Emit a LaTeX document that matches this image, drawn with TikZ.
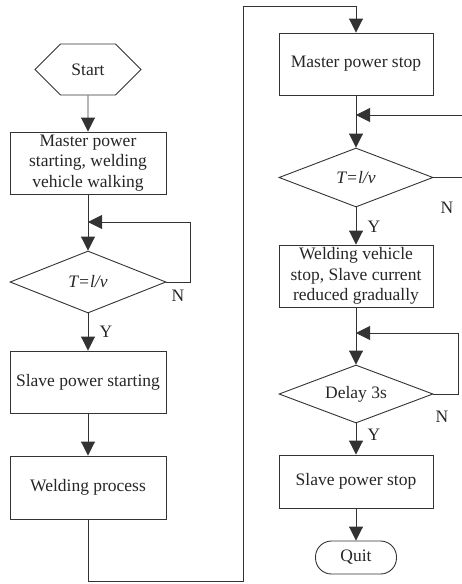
\documentclass[tikz,border=0pt]{standalone}
\usepackage{fontspec}
\setmainfont{Liberation Serif}
\usetikzlibrary{arrows.meta,shapes.geometric,shapes.symbols}
\begin{document}
\begin{tikzpicture}[x=1pt,y=-1pt,
  every node/.style={font=\fontsize{17.5}{20.5}\selectfont, text=black!85},
  line/.style={draw=black!80, line width=0.9pt},
  arr/.style={line, -{Triangle[length=14pt,width=14pt]}},
  procbox/.style={line, rectangle, align=center, inner sep=0pt, minimum width=156pt},
  decision/.style={line, diamond, aspect=2.5, inner sep=0pt, minimum width=156pt},
  terminal/.style={line, signal, signal to=west and east, signal pointer angle=90,
                   inner sep=0pt, minimum width=106pt, minimum height=51pt},
  quitbox/.style={line, rectangle, rounded corners=16pt, inner sep=0pt,
                  minimum width=81pt, minimum height=33pt},
  lbl/.style={inner sep=0pt}]
\useasboundingbox (0,0) rectangle (462,584);
\clip (0,0) rectangle (462,584);

% left column
\node[terminal] (start) at (88,69.5) {Start};
\node[procbox, minimum height=62pt] (mstart) at (88,163)
  {Master power\\starting, welding\\vehicle walking};
\node[decision, minimum height=62pt] (d1) at (88,282) {\textit{T=l/v}};
\node[procbox, minimum height=62pt] (sstart) at (88,382) {Slave power starting};
\node[procbox, minimum height=63pt] (weld) at (88,487.5) {Welding process};

% right column
\node[procbox, minimum width=154pt, minimum height=62pt] (mstop) at (356,64) {Master power stop};
\node[decision, minimum width=154pt, minimum height=59pt] (d2) at (356,177.5) {\textit{T=l/v}};
\node[procbox, minimum width=154pt, minimum height=62pt] (vstop) at (356,276)
  {Welding vehicle\\stop, Slave current\\reduced gradually};
\node[decision, minimum width=154pt, minimum height=58pt] (d3) at (356,394) {Delay 3s};
\node[procbox, minimum width=154pt, minimum height=53pt] (sstop) at (356,481.5) {Slave power stop};
\node[quitbox] (quit) at (356,557.5) {Quit};

% loop junction points
\coordinate (j1) at (88,222);
\coordinate (j2) at (356,115);
\coordinate (j3) at (356,333);

% main flow
\draw[arr] (start) -- (mstart);
\draw[arr] (mstart) -- (d1);
\draw[arr] (d1) -- (sstart);
\draw[arr] (sstart) -- (weld);
\draw[arr] (weld.south) -- (88,581) -- (243,581) -- (243,6) -- (356,6) -- (mstop.north);
\draw[arr] (mstop) -- (d2);
\draw[arr] (d2) -- (vstop);
\draw[arr] (vstop) -- (d3);
\draw[arr] (d3) -- (sstop);
\draw[arr] (sstop) -- (quit);

% "N" loops back above each decision
\draw[arr] (d1.east) -- (190,282) -- (190,222) -- (j1);
\draw[arr] (d2.east) -- (475,177.5) -- (475,115) -- (j2);
\draw[arr] (d3.east) -- (458,394) -- (458,333) -- (j3);

% branch labels
\node[lbl] (n1) at (178,296) {N};
\node[lbl] (y1) at (106,332) {Y};
\node[lbl] (n2) at (447,208) {N};
\node[lbl] (y2) at (374,227) {Y};
\node[lbl] (n3) at (442,417) {N};
\node[lbl] (y3) at (374,435) {Y};
\end{tikzpicture}
\end{document}
